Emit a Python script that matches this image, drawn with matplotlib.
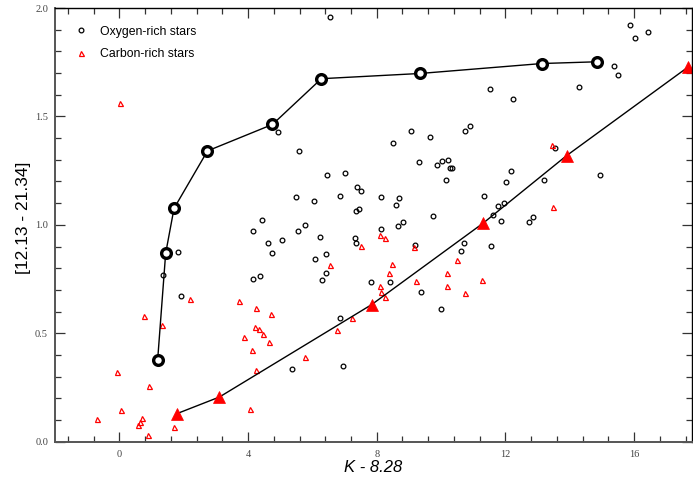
import matplotlib
matplotlib.use("Agg")
import matplotlib.pyplot as plt
from matplotlib.ticker import MultipleLocator

# Oxygen-rich stars (open black circles)
oxy_x = [6.56, 4.92, 5.58, 6.46, 7.00, 5.49, 6.06, 6.87, 4.44, 5.76, 4.17, 5.56, 5.07, 4.61, 6.25,
         15.88, 16.04, 16.43, 15.37, 15.51, 14.29, 11.52, 12.23, 9.06, 9.65, 10.75, 10.90, 8.50,
         13.55, 9.32, 9.88, 10.04, 10.23, 10.29, 10.34, 10.16, 12.18, 12.02, 13.19, 14.95, 11.34,
         11.77, 11.95, 11.61, 11.86, 12.74, 12.87, 7.38, 7.52, 8.14, 8.69, 8.60, 7.36, 7.46, 9.74,
         8.14, 8.67, 8.81, 7.34, 7.35, 9.19, 10.70, 11.54, 10.62,
         1.81, 1.36, 1.93, 4.73, 6.07, 6.42, 6.41, 6.30, 4.16, 4.36, 5.37, 6.94, 6.87,
         7.83, 8.41, 9.38, 9.99]
oxy_y = [1.958, 1.429, 1.340, 1.232, 1.241, 1.129, 1.109, 1.135, 1.022, 1.000, 0.971, 0.971, 0.932, 0.917, 0.945,
         1.920, 1.863, 1.889, 1.734, 1.691, 1.635, 1.626, 1.580, 1.434, 1.403, 1.435, 1.455, 1.377,
         1.354, 1.289, 1.278, 1.295, 1.301, 1.264, 1.262, 1.206, 1.248, 1.198, 1.205, 1.231, 1.135,
         1.088, 1.103, 1.046, 1.018, 1.014, 1.034, 1.174, 1.157, 1.128, 1.123, 1.092, 1.063, 1.075, 1.043,
         0.983, 0.994, 1.012, 0.941, 0.917, 0.905, 0.914, 0.903, 0.879,
         0.874, 0.771, 0.674, 0.871, 0.843, 0.865, 0.780, 0.745, 0.752, 0.765, 0.335, 0.348, 0.572,
         0.735, 0.737, 0.689, 0.612]

# Carbon-rich stars (open red triangles)
carb_x = [0.02, 2.20, 0.78, 1.34, -0.06, 0.92, 0.04, -0.71, 0.69, 0.63, 0.57, 0.90, 1.69,
          3.73, 4.26, 4.71, 4.22, 4.35, 4.45, 3.89, 4.12, 4.65, 4.26, 4.06, 5.78, 6.54, 6.78,
          7.51, 9.15, 8.10, 8.26, 13.45, 13.47, 8.46, 8.39, 8.11, 8.12, 8.27, 9.22, 10.19, 10.19,
          10.49, 11.27, 10.74, 7.22]
carb_y = [1.564, 0.657, 0.581, 0.537, 0.323, 0.257, 0.146, 0.105, 0.108, 0.092, 0.076, 0.030, 0.066,
          0.648, 0.616, 0.588, 0.529, 0.519, 0.496, 0.485, 0.422, 0.460, 0.332, 0.151, 0.391, 0.815, 0.515,
          0.902, 0.898, 0.951, 0.940, 1.368, 1.083, 0.819, 0.780, 0.717, 0.691, 0.669, 0.740, 0.777, 0.717,
          0.837, 0.746, 0.688, 0.569]

# Model tracks
o_model_x = [1.19, 1.44, 1.70, 2.74, 4.76, 6.28, 9.34, 13.14, 14.85]
o_model_y = [0.376, 0.869, 1.076, 1.341, 1.463, 1.674, 1.698, 1.744, 1.752]
c_model_x = [1.80, 3.11, 7.84, 11.31, 13.90, 17.68]
c_model_y = [0.130, 0.206, 0.632, 1.008, 1.319, 1.728]

fig = plt.figure(figsize=(6.93, 4.82), dpi=100)
ax = fig.add_axes([55/693, 1-441.7/482, (692-55)/693, (441.7-8)/482])

ax.plot(oxy_x, oxy_y, linestyle='none', marker='o', ms=3.4, mfc='none', mec='black', mew=0.9,
        label='Oxygen-rich stars')
ax.plot(carb_x, carb_y, linestyle='none', marker='^', ms=3.6, mfc='none', mec='red', mew=0.9,
        label='Carbon-rich stars')

ax.plot(o_model_x, o_model_y, color='black', lw=1.0, marker='o', ms=7, mfc='white', mec='black', mew=2.4)
ax.plot(c_model_x, c_model_y, color='black', lw=1.0, marker='^', ms=9, mfc='red', mec='red', mew=0.5)

ax.set_xlim(-2, 17.8)
ax.set_ylim(0, 2.0)
ax.xaxis.set_major_locator(MultipleLocator(4))
ax.xaxis.set_minor_locator(MultipleLocator(0.8))
ax.yaxis.set_major_locator(MultipleLocator(0.5))
ax.yaxis.set_minor_locator(MultipleLocator(0.1))
ax.set_xticks([0, 4, 8, 12, 16])
ax.set_yticks([0.0, 0.5, 1.0, 1.5, 2.0])
ax.set_xticklabels(['0', '4', '8', '12', '16'])
ax.set_yticklabels(['0.0', '0.5', '1.0', '1.5', '2.0'])

ax.tick_params(which='both', direction='in', top=True, right=True, color='#333333', width=0.9)
ax.tick_params(which='major', length=7)
ax.tick_params(which='minor', length=4)
for lab in ax.get_xticklabels() + ax.get_yticklabels():
    lab.set_fontfamily('Liberation Serif')
    lab.set_fontsize(7.5)
    lab.set_color('#444444')
ax.tick_params(axis='x', pad=6)
ax.tick_params(axis='y', pad=5)

for side in ['left', 'bottom']:
    ax.spines[side].set_color('#555555')
    ax.spines[side].set_linewidth(1.4)
for side in ['top', 'right']:
    ax.spines[side].set_color('black')
    ax.spines[side].set_linewidth(1.0)

ax.set_xlabel('K - 8.28', fontfamily='Liberation Sans', fontstyle='italic', fontsize=12, labelpad=1)
ax.set_ylabel('[12.13 - 21.34]', fontfamily='Liberation Sans', fontsize=12.5)
ax.yaxis.set_label_coords(-0.037, 0.516)

leg = ax.legend(loc='upper left', bbox_to_anchor=(0.008, 0.985), frameon=False,
                handlelength=1.6, handletextpad=0.8, labelspacing=0.85,
                prop={'family': 'Liberation Sans', 'size': 8.8})

fig.savefig('out.png', dpi=100)
